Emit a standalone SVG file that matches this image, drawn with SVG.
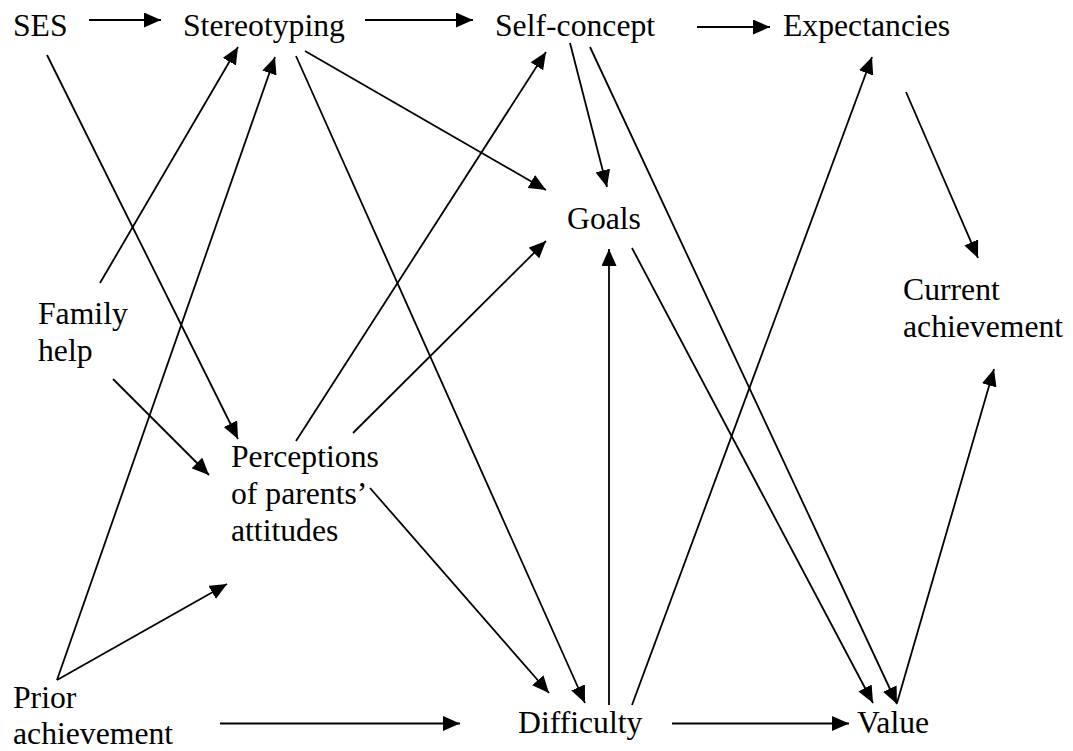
<svg xmlns="http://www.w3.org/2000/svg" width="1073" height="751" viewBox="0 0 1073 751">
<style>
text{font-family:"Liberation Serif","Times New Roman",serif;font-size:31.7px;fill:#000}
.c line{stroke:#000;stroke-width:1.8;marker-end:url(#ah)}
</style>
<defs>
<marker id="ah" markerUnits="userSpaceOnUse" markerWidth="18" markerHeight="15" refX="17" refY="7.5" orient="auto">
<path d="M0,0 L17,7.5 L0,15 z" fill="#000"/>
</marker>
</defs>
<rect width="1073" height="751" fill="#fff"/>
<g class="c" id="connectors">
<line x1="89" y1="20" x2="161" y2="20"/>
<line x1="365" y1="20" x2="473" y2="20"/>
<line x1="697" y1="27" x2="770" y2="27"/>
<line x1="47" y1="55" x2="238" y2="439"/>
<line x1="100" y1="283" x2="238" y2="47"/>
<line x1="57" y1="680" x2="275" y2="57"/>
<line x1="57" y1="680" x2="227" y2="584"/>
<line x1="220" y1="723.5" x2="460" y2="723.5"/>
<line x1="113" y1="379" x2="209" y2="475"/>
<line x1="296" y1="56" x2="585" y2="703"/>
<line x1="305" y1="51" x2="546" y2="190"/>
<line x1="296" y1="441" x2="546" y2="52"/>
<line x1="353" y1="433" x2="546" y2="241"/>
<line x1="370" y1="488" x2="549" y2="693"/>
<line x1="570" y1="43" x2="607" y2="187"/>
<line x1="590" y1="47" x2="897" y2="704"/>
<line x1="632" y1="248" x2="873" y2="703"/>
<line x1="609" y1="705" x2="609" y2="249"/>
<line x1="632" y1="705" x2="872" y2="57"/>
<line x1="672" y1="723.5" x2="849" y2="723.5"/>
<line x1="906" y1="92" x2="978" y2="258"/>
<line x1="897" y1="703" x2="994" y2="369"/>
</g>
<g id="ses"><text x="13" y="36">SES</text></g>
<g id="stereotyping"><text x="183" y="36">Stereotyping</text></g>
<g id="self-concept"><text x="495" y="36">Self-concept</text></g>
<g id="expectancies"><text x="783" y="36">Expectancies</text></g>
<g id="goals"><text x="567" y="229">Goals</text></g>
<g id="family-help"><text x="38" y="324">Family</text><text x="38" y="361">help</text></g>
<g id="current-achievement"><text x="903" y="300">Current</text><text x="903" y="337">achievement</text></g>
<g id="perceptions"><text x="231" y="467">Perceptions</text><text x="231" y="504">of parents’</text><text x="231" y="541">attitudes</text></g>
<g id="prior-achievement"><text x="13" y="708">Prior</text><text x="13" y="744">achievement</text></g>
<g id="difficulty"><text x="518" y="733">Difficulty</text></g>
<g id="value"><text x="857" y="733">Value</text></g>
</svg>
